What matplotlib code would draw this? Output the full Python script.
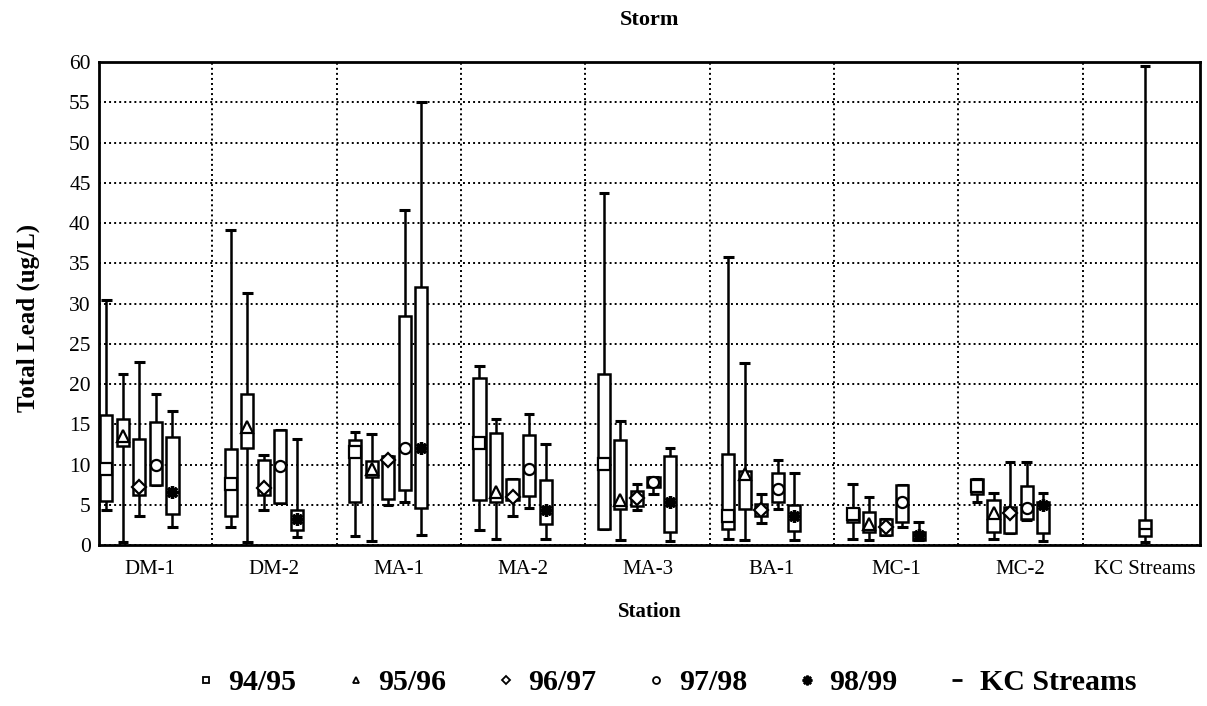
import numpy as np
import matplotlib
matplotlib.use("Agg")
import matplotlib.pyplot as plt
from matplotlib.lines import Line2D

plt.rcParams['font.family'] = ['Liberation Serif', 'DejaVu Serif']

stations = ['DM-1', 'DM-2', 'MA-1', 'MA-2', 'MA-3', 'BA-1', 'MC-1', 'MC-2', 'KC Streams']

# one row per station: [low whisker, 25th pct, 75th pct, high whisker, mean]
wy_9495 = [[4.4, 5.5, 16.1, 30.5, 9.4],
           [2.3, 3.6, 11.9, 39.2, 7.6],
           [1.1, 5.3, 13.1, 14.0, 11.5],
           [1.9, 5.6, 20.7, 22.3, 12.7],
           [2.0, 2.0, 21.2, 43.8, 10.1],
           [0.7, 2.0, 11.3, 35.8, 3.6],
           [0.8, 2.8, 4.5, 7.6, 3.8],
           [5.4, 6.3, 8.2, 8.2, 7.3]]
wy_9596 = [[0.4, 12.3, 15.6, 21.3, 13.5],
           [0.4, 12.0, 18.8, 31.3, 14.7],
           [0.5, 8.5, 10.5, 13.8, 9.5],
           [0.7, 5.3, 13.9, 15.6, 6.6],
           [0.6, 4.5, 13.1, 15.4, 5.6],
           [0.6, 4.5, 9.2, 22.6, 8.8],
           [0.6, 1.6, 4.1, 6.0, 2.6],
           [0.8, 1.6, 5.6, 6.5, 4.0]]
wy_9697 = [[3.6, 6.2, 13.2, 22.8, 7.2],
           [4.3, 6.2, 10.6, 11.2, 7.1],
           [5.0, 5.7, 11.0, 11.0, 10.6],
           [3.6, 5.6, 8.2, 8.2, 6.0],
           [4.3, 4.8, 6.7, 7.6, 5.8],
           [2.7, 3.6, 5.1, 6.4, 4.3],
           [1.3, 1.3, 3.2, 3.2, 2.3],
           [1.5, 1.5, 4.7, 10.3, 4.0]]
wy_9798 = [[7.5, 7.5, 15.3, 18.8, 10.0],
           [5.2, 5.2, 14.3, 14.3, 9.8],
           [5.4, 6.8, 28.4, 41.6, 12.1],
           [4.6, 6.1, 13.7, 16.3, 9.4],
           [6.3, 7.2, 8.4, 8.4, 7.8],
           [4.5, 5.3, 9.0, 10.6, 6.9],
           [2.3, 2.9, 7.5, 7.5, 5.4],
           [3.1, 3.2, 7.3, 10.3, 4.6]]
wy_9899 = [[2.2, 3.9, 13.4, 16.7, 6.6],
           [1.0, 1.9, 4.4, 13.2, 3.2],
           [1.3, 4.6, 32.0, 55.0, 12.0],
           [0.8, 2.6, 8.1, 12.5, 4.4],
           [0.5, 1.6, 11.0, 12.1, 5.4],
           [0.6, 1.8, 5.0, 9.0, 3.6],
           [0.6, 0.6, 1.6, 2.8, 1.2],
           [0.5, 1.5, 5.4, 6.5, 5.0]]
kc_streams = [0.4, 1.1, 3.1, 59.5, 2.0]

seasons = ['94/95', '95/96', '96/97', '97/98', '98/99']
season_data = [wy_9495, wy_9596, wy_9697, wy_9798, wy_9899]
season_markers = ['s', '^', 'D', 'o', (8, 2, 0)]

fig = plt.figure(figsize=(12.07, 7.06), dpi=100)
ax = fig.add_axes([0.082, 0.228, 0.912, 0.684])

box_w = 0.098
cap_w = 0.085


def draw_box(x, row, marker, msize=8):
    lo, q1, q3, hi, mid = row
    ax.vlines(x, lo, q1, color='black', lw=1.8, zorder=3)
    ax.vlines(x, q3, hi, color='black', lw=1.8, zorder=3)
    ax.hlines([lo, hi], x - cap_w / 2, x + cap_w / 2, color='black', lw=2.2, zorder=3)
    ax.bar(x, q3 - q1, bottom=q1, width=box_w, color='white',
           edgecolor='black', linewidth=1.8, zorder=4)
    if isinstance(marker, tuple):
        ax.plot(x, mid, marker=marker, ms=9, mew=2.4, color='black', zorder=5)
    else:
        ax.plot(x, mid, marker=marker, ms=msize, mew=1.6, mfc='white',
                mec='black', zorder=5)


for k, (data, mk) in enumerate(zip(season_data, season_markers)):
    for i, row in enumerate(data):
        x = i - 0.085 + (k - 2) * 0.133
        draw_box(x, row, mk, msize=7 if mk == 'D' else 8)

draw_box(8, kc_streams, '_', msize=9)

ax.set_xlim(-0.41, 8.44)
ax.set_ylim(0, 60)
ax.set_yticks(np.arange(0, 61, 5))
ax.set_xticks(np.arange(len(stations)))
ax.set_xticklabels(stations)
ax.set_xticks(np.arange(len(stations) - 1) + 0.5, minor=True)
ax.tick_params(axis='both', which='both', length=0)
ax.tick_params(axis='y', labelsize=15.5, pad=6)
ax.tick_params(axis='x', labelsize=15, pad=11)

ax.set_axisbelow(True)
ax.grid(True, axis='y', which='major', color='black', linestyle=(0, (1, 1.6)), lw=1.4)
ax.grid(True, axis='x', which='minor', color='black', linestyle=(0, (1, 1.6)), lw=1.4)
for sp in ax.spines.values():
    sp.set_linewidth(2)

ax.set_title('Storm', fontsize=16, fontweight='bold', pad=27)
ax.set_ylabel('Total Lead (ug/L)', fontsize=18, fontweight='bold')
ax.yaxis.set_label_coords(-0.054, 0.47)
ax.set_xlabel('Station', fontsize=15, fontweight='bold', labelpad=16)

handles = [Line2D([], [], ls='none', marker='s', ms=5, mew=1.3, mfc='white', mec='black'),
           Line2D([], [], ls='none', marker='^', ms=5, mew=1.3, mfc='white', mec='black'),
           Line2D([], [], ls='none', marker='D', ms=4.5, mew=1.3, mfc='white', mec='black'),
           Line2D([], [], ls='none', marker='o', ms=5, mew=1.3, mfc='white', mec='black'),
           Line2D([], [], ls='none', marker=(8, 2, 0), ms=7, mew=1.8, color='black'),
           Line2D([], [], ls='none', marker='_', ms=7, mew=2, color='black')]
labels = seasons + ['KC Streams']
fig.legend(handles, labels, loc='center', bbox_to_anchor=(0.551, 0.033), ncol=6,
           frameon=False, prop={'size': 21.5, 'weight': 'bold'},
           handlelength=0.8, handletextpad=0.35, columnspacing=1.6)

fig.savefig('out.png', dpi=100)
